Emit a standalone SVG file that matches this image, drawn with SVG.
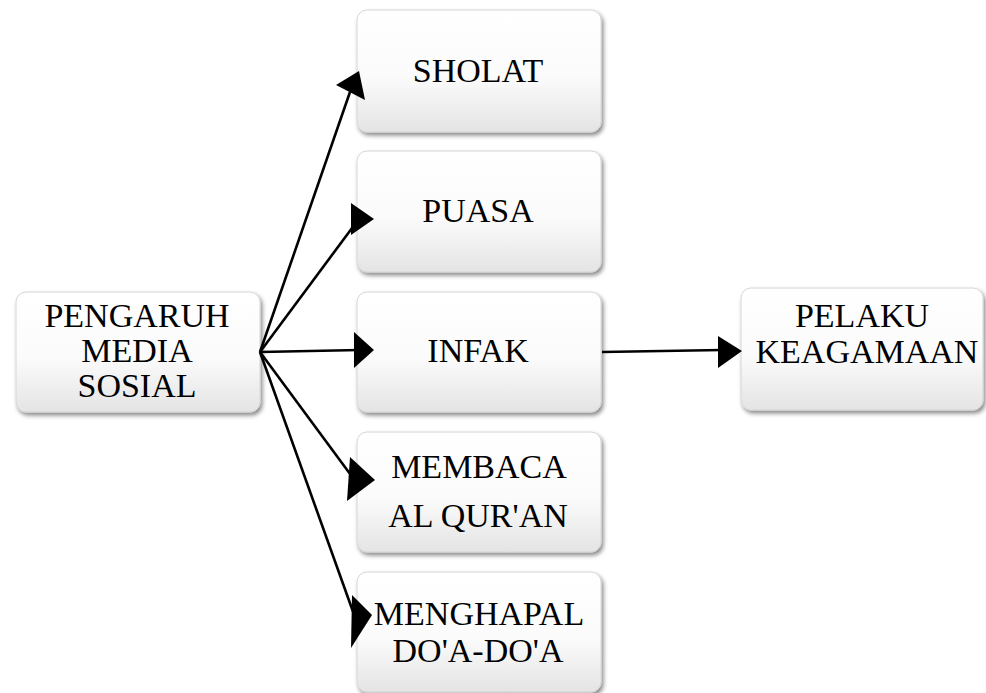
<svg xmlns="http://www.w3.org/2000/svg" width="986" height="693" viewBox="0 0 986 693">
  <style>
    .box { fill: url(#boxGrad); stroke: #d6d6d6; stroke-width: 1; filter: url(#shadow); }
    .lbl { font-family: "Liberation Serif", "Times New Roman", serif; font-size: 34px; fill: #000; text-anchor: middle; }
    .conn { stroke: #000; stroke-width: 2.6; fill: none; }
    .head { fill: #000; stroke: none; }
  </style>
  <defs>
    <linearGradient id="boxGrad" x1="0" y1="0" x2="0" y2="1">
      <stop offset="0" stop-color="#ffffff"/>
      <stop offset="0.55" stop-color="#fbfbfb"/>
      <stop offset="1" stop-color="#e4e4e4"/>
    </linearGradient>
    <filter id="shadow" x="-10%" y="-10%" width="125%" height="130%">
      <feDropShadow dx="2" dy="3" stdDeviation="2" flood-color="#000" flood-opacity="0.45"/>
    </filter>
  </defs>
  <rect width="986" height="693" fill="#ffffff"/>

  <g id="node-pengaruh">
    <rect class="box" x="16" y="292" width="244" height="120" rx="10"/>
    <text class="lbl" x="137" y="327">PENGARUH</text>
    <text class="lbl" x="137" y="362">MEDIA</text>
    <text class="lbl" x="137" y="397">SOSIAL</text>
  </g>
  <g id="node-sholat">
    <rect class="box" x="357" y="10" width="244" height="122" rx="10"/>
    <text class="lbl" x="478" y="82">SHOLAT</text>
  </g>
  <g id="node-puasa">
    <rect class="box" x="357" y="151" width="244" height="121" rx="10"/>
    <text class="lbl" x="478" y="222">PUASA</text>
  </g>
  <g id="node-infak">
    <rect class="box" x="357" y="292" width="244" height="120" rx="10"/>
    <text class="lbl" x="478" y="362">INFAK</text>
  </g>
  <g id="node-membaca">
    <rect class="box" x="357" y="432" width="244" height="120" rx="10"/>
    <text class="lbl" x="479" y="478">MEMBACA</text>
    <text class="lbl" x="478" y="527">AL QUR'AN</text>
  </g>
  <g id="node-menghapal">
    <rect class="box" x="357" y="572" width="244" height="120" rx="10"/>
    <text class="lbl" x="479" y="625">MENGHAPAL</text>
    <text class="lbl" x="478" y="662">DO'A-DO'A</text>
  </g>
  <g id="node-pelaku">
    <rect class="box" x="741" y="288" width="242" height="122" rx="10"/>
    <text class="lbl" x="862" y="327">PELAKU</text>
    <text class="lbl" x="867" y="363">KEAGAMAAN</text>
  </g>

  <g id="connectors">
    <line class="conn" x1="260" y1="352" x2="350" y2="92"/>
    <polygon class="head" points="336,85 359,71 365,100"/>
    <line class="conn" x1="260" y1="352" x2="358" y2="220"/>
    <polygon class="head" points="351,203 374,219 351,235"/>
    <line class="conn" x1="260" y1="352" x2="360" y2="350"/>
    <polygon class="head" points="354,332 374,350 354,368"/>
    <line class="conn" x1="260" y1="352" x2="356" y2="482"/>
    <polygon class="head" points="350,457 375,480 347,501"/>
    <line class="conn" x1="260" y1="352" x2="356" y2="620"/>
    <polygon class="head" points="352,595 372,615 351,648"/>
    <line class="conn" x1="602" y1="352" x2="722" y2="350"/>
    <polygon class="head" points="718,336 742,351 718,368"/>
  </g>
</svg>
